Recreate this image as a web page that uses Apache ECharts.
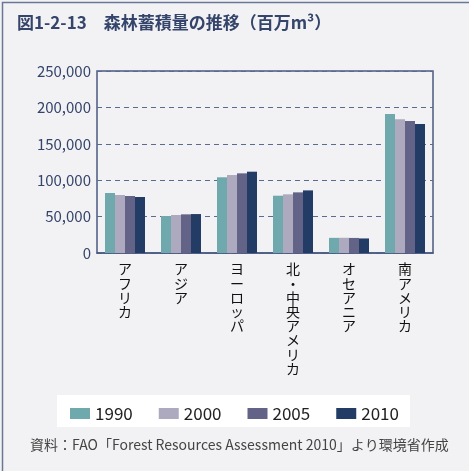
<!DOCTYPE html>
<html><head><meta charset="utf-8">
<script src="https://cdn.jsdelivr.net/npm/echarts@6/dist/echarts.min.js"></script>
<style>html,body{margin:0;padding:0;background:#f2f2f4;}#c{width:469px;height:471px;}</style>
</head><body><div id="c"></div>
<script>
const categories = ['アフリカ','アジア','ヨーロッパ','北・中央アメリカ','オセアニア','南アメリカ'];
const years = ['1990','2000','2005','2010'];
const v1990 = [82400, 50800, 104000, 78700, 20800, 190900];
const v2000 = [79700, 52200, 107100, 80600, 20900, 183600];
const v2005 = [78300, 53100, 109400, 83300, 20700, 181300];
const v2010 = [76900, 53500, 111700, 86000, 20000, 177200];
const yTicks = [0, 50000, 100000, 150000, 200000, 250000];
const colors = ['#6fa9ad', '#adaac0', '#636388', '#233c66'];
const FONT = '"Noto Sans CJK JP", "Noto Sans", sans-serif';

const chart = echarts.init(document.getElementById('c'), null, {renderer: 'canvas'});
const seriesData = [v1990, v2000, v2005, v2010];
chart.setOption({
  backgroundColor: '#f2f2f4',
  animation: false,
  textStyle: {fontFamily: FONT},
  title: {
    text: '図1-2-13　森林蓄積量の推移（百万m³）',
    left: 12, top: 9,
    textStyle: {fontSize: 17, fontWeight: 'bold', color: '#34446a', fontFamily: FONT}
  },
  graphic: [
    {type: 'rect', left: 0, top: 0, shape: {width: 468, height: 470}, style: {fill: 'none', stroke: '#6a7898', lineWidth: 1.5}, z: 100},
    {type: 'rect', left: 57, top: 395, shape: {width: 353, height: 32}, style: {fill: '#ffffff'}, z: -1},
    {type: 'text', left: 30, top: 438, style: {text: '資料：FAO「Forest Resources Assessment 2010」より環境省作成', fill: '#444444', font: '14px ' + FONT}}
  ],
  legend: {
    data: years,
    left: 'center', top: 400,
    itemWidth: 20, itemHeight: 11, itemGap: 26,
    textStyle: {fontSize: 17, color: '#222', fontFamily: FONT},
    icon: 'rect'
  },
  grid: {left: 97, right: 36, top: 71, bottom: 218, containLabel: false,
    show: true, backgroundColor: 'transparent', borderColor: '#4a5a80', borderWidth: 1.5},
  xAxis: {
    type: 'category',
    data: categories,
    axisLine: {lineStyle: {color: '#4a5a80', width: 1.5}},
    axisTick: {show: false},
    axisLabel: {
      interval: 0, margin: 9,
      formatter: s => s.split('').join('\n'),
      fontSize: 14, lineHeight: 14.2, color: '#111', verticalAlign: 'top', fontFamily: FONT
    }
  },
  yAxis: {
    type: 'value', min: 0, max: 250000, interval: 50000,
    axisLine: {show: false},
    axisTick: {show: false},
    axisLabel: {
      fontSize: 15, color: '#34446a', margin: 6,
      formatter: v => yTicks.includes(v) ? v.toLocaleString('en-US') : ''
    },
    splitLine: {show: true, lineStyle: {color: '#5a6a90', type: [5, 4], width: 1.2}}
  },
  series: years.map((y, i) => ({
    name: y, type: 'bar', data: seriesData[i],
    barWidth: 10, barGap: '0%',
    itemStyle: {color: colors[i]}
  }))
});
</script></body></html>
